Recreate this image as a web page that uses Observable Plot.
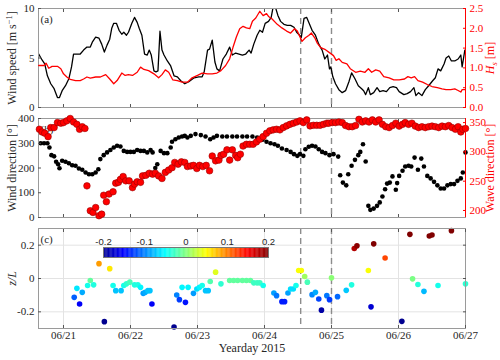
<!DOCTYPE html>
<html><head><meta charset="utf-8">
<script src="https://cdn.jsdelivr.net/npm/d3@7"></script>
<script src="https://cdn.jsdelivr.net/npm/@observablehq/plot@0.6"></script>
<style>
body{margin:0;background:#fff;}
#chart{position:relative;width:500px;height:360px;overflow:hidden;background:#fff;}
#chart svg{position:absolute;overflow:visible;max-width:none;}
</style></head><body><div id="chart"></div>
<script>
// ---------------- data (yearday 2015, value) ----------------
const xTicks = [172,173,174,175,176,177,178];
const xTickLabels = ["06/21","06/22","06/23","06/24","06/25","06/26","06/27"];
const xDomain = [171.627, 178];
const dashedDays = [175.54, 176.0];

const windSpeed = [[171.63,5.4],[171.68,4.8],[171.72,4.4],[171.76,3.2],[171.81,2.4],[171.86,1.9],[171.91,1.0],[171.94,1.0],[171.98,1.7],[172.03,2.2],[172.08,2.9],[172.12,4.1],[172.15,5.4],[172.20,5.4],[172.25,5.4],[172.30,5.8],[172.35,6.1],[172.40,6.1],[172.43,6.6],[172.48,7.1],[172.53,7.0],[172.57,6.4],[172.61,5.6],[172.65,6.3],[172.69,6.9],[172.72,8.0],[172.75,8.5],[172.79,8.5],[172.83,7.8],[172.87,7.4],[172.90,7.6],[172.94,7.3],[172.97,7.6],[173.02,8.5],[173.06,9.1],[173.10,8.6],[173.13,8.0],[173.17,7.3],[173.21,5.4],[173.25,5.3],[173.28,5.8],[173.31,5.3],[173.35,3.7],[173.38,3.6],[173.41,3.7],[173.44,7.7],[173.47,5.8],[173.50,5.3],[173.55,4.7],[173.60,4.2],[173.65,3.2],[173.70,3.1],[173.75,2.7],[173.81,2.4],[173.87,2.6],[173.95,3.0],[174.02,3.1],[174.07,3.1],[174.10,3.6],[174.15,5.8],[174.18,5.9],[174.22,6.8],[174.26,4.6],[174.29,3.9],[174.33,3.7],[174.38,4.9],[174.43,5.4],[174.48,6.1],[174.52,5.3],[174.57,5.5],[174.62,5.4],[174.67,5.3],[174.72,5.4],[174.77,5.8],[174.80,5.5],[174.84,6.4],[174.89,7.3],[174.93,7.8],[174.97,7.6],[175.01,8.5],[175.06,8.7],[175.10,9.1],[175.13,10.2],[175.16,10.2],[175.20,9.3],[175.24,8.7],[175.29,8.4],[175.34,8.3],[175.39,8.3],[175.44,8.1],[175.48,7.6],[175.51,7.4],[175.55,7.1],[175.59,9.0],[175.63,9.1],[175.66,8.6],[175.71,7.8],[175.76,7.3],[175.81,6.4],[175.86,5.8],[175.90,4.9],[175.94,5.3],[175.97,3.9],[175.99,4.1],[176.02,3.1],[176.06,2.4],[176.11,1.8],[176.16,1.5],[176.21,1.7],[176.26,2.6],[176.30,3.5],[176.35,2.9],[176.40,2.2],[176.45,1.9],[176.48,1.7],[176.51,1.3],[176.55,2.0],[176.58,1.3],[176.63,1.5],[176.68,2.0],[176.72,1.6],[176.77,1.7],[176.82,1.6],[176.87,2.0],[176.92,2.1],[176.97,2.0],[177.01,1.6],[177.08,1.3],[177.13,1.4],[177.18,1.6],[177.23,2.0],[177.26,1.2],[177.30,1.5],[177.35,1.2],[177.40,1.8],[177.45,2.2],[177.51,2.7],[177.55,3.0],[177.59,3.9],[177.63,3.7],[177.68,4.4],[177.71,5.0],[177.75,5.2],[177.79,4.7],[177.84,4.7],[177.89,4.9],[177.93,5.3],[177.95,4.1],[177.99,5.8]];

const waveHeight = [[171.63,1.06],[171.71,1.06],[171.74,1.12],[171.78,0.99],[171.83,1.04],[171.91,1.04],[171.96,0.98],[172.00,0.85],[172.05,0.77],[172.10,0.71],[172.18,0.68],[172.25,0.68],[172.30,0.72],[172.35,0.77],[172.40,0.74],[172.48,0.77],[172.55,0.77],[172.63,0.83],[172.69,0.72],[172.75,0.60],[172.80,0.68],[172.87,0.87],[172.92,0.81],[172.97,0.83],[173.03,0.81],[173.10,0.89],[173.15,1.02],[173.20,0.96],[173.27,0.93],[173.35,0.85],[173.42,0.75],[173.47,0.83],[173.52,0.95],[173.57,0.89],[173.63,0.70],[173.70,0.68],[173.77,0.64],[173.85,0.64],[173.92,0.75],[174.00,0.81],[174.07,0.87],[174.15,0.85],[174.22,0.85],[174.29,0.87],[174.35,0.93],[174.42,1.06],[174.48,1.23],[174.53,1.52],[174.58,1.78],[174.63,1.99],[174.68,2.05],[174.73,2.01],[174.78,1.99],[174.82,2.18],[174.87,2.26],[174.93,2.43],[174.98,2.32],[175.03,2.37],[175.06,2.30],[175.11,2.24],[175.19,2.10],[175.26,2.01],[175.33,1.93],[175.39,1.88],[175.45,1.99],[175.49,1.93],[175.53,1.78],[175.56,1.67],[175.61,1.76],[175.66,1.82],[175.70,1.88],[175.75,1.76],[175.79,1.62],[175.84,1.51],[175.91,1.46],[175.99,1.36],[176.03,1.31],[176.07,1.19],[176.11,1.23],[176.16,1.14],[176.23,1.10],[176.28,0.98],[176.36,0.89],[176.43,0.92],[176.50,0.89],[176.55,0.98],[176.60,0.89],[176.66,0.95],[176.72,0.92],[176.78,0.78],[176.86,0.75],[176.93,0.70],[177.01,0.70],[177.09,0.72],[177.14,0.78],[177.19,0.75],[177.24,0.78],[177.29,0.68],[177.36,0.64],[177.43,0.58],[177.50,0.53],[177.58,0.50],[177.65,0.47],[177.71,0.45],[177.78,0.45],[177.84,0.47],[177.89,0.43],[177.93,0.39],[177.95,0.45],[177.99,0.45]];

const windDir = [[171.66,300],[171.71,300],[171.76,300],[171.79,283],[171.82,252],[171.86,247],[171.89,225],[171.92,215],[171.94,199],[171.98,229],[172.03,225],[172.08,219],[172.13,211],[172.18,209],[172.23,198],[172.28,193],[172.33,182],[172.38,175],[172.43,175],[172.48,182],[172.52,195],[172.55,236],[172.60,252],[172.65,263],[172.70,273],[172.75,283],[172.80,290],[172.85,287],[172.90,269],[172.95,265],[173.00,265],[173.05,265],[173.10,273],[173.15,269],[173.20,269],[173.25,263],[173.30,273],[173.33,263],[173.37,200],[173.40,215],[173.45,269],[173.50,260],[173.55,260],[173.60,283],[173.62,306],[173.67,316],[173.72,323],[173.77,327],[173.81,330],[173.85,323],[173.90,330],[173.97,337],[174.05,333],[174.12,327],[174.19,316],[174.24,323],[174.29,330],[174.37,327],[174.44,327],[174.52,327],[174.59,327],[174.67,327],[174.74,327],[174.82,327],[174.89,323],[174.97,314],[175.03,306],[175.09,300],[175.15,296],[175.20,290],[175.26,279],[175.33,273],[175.39,265],[175.44,256],[175.49,249],[175.53,256],[175.58,249],[175.61,276],[175.66,286],[175.71,290],[175.76,287],[175.81,276],[175.86,265],[175.91,260],[175.97,252],[176.03,256],[176.10,246],[176.13,171],[176.17,141],[176.22,130],[176.25,175],[176.30,209],[176.35,233],[176.40,252],[176.43,265],[176.47,296],[176.51,226],[176.55,47],[176.58,31],[176.63,36],[176.68,47],[176.72,61],[176.76,85],[176.80,114],[176.83,137],[176.87,141],[176.91,166],[176.96,112],[176.98,139],[177.01,168],[177.06,189],[177.10,206],[177.15,209],[177.19,206],[177.24,242],[177.29,193],[177.34,238],[177.38,206],[177.43,168],[177.48,158],[177.53,144],[177.58,130],[177.63,117],[177.68,117],[177.73,130],[177.78,135],[177.83,135],[177.88,148],[177.93,158],[177.96,182],[178.00,263]];

const waveDir = [[171.64,338.6],[171.68,334],[171.72,332],[171.77,326],[171.81,341.5],[171.86,341.5],[171.91,350],[171.96,349],[172.00,350],[172.05,353],[172.10,357],[172.15,351],[172.20,347],[172.24,338.6],[172.28,343],[172.32,340],[172.35,242],[172.40,199.5],[172.44,196.6],[172.48,205],[172.53,191],[172.57,193.7],[172.60,226],[172.64,215],[172.68,228],[172.74,232],[172.78,246.6],[172.82,248],[172.85,253],[172.89,258],[172.93,250.6],[172.98,250.6],[173.03,239],[173.06,245],[173.10,249],[173.15,248],[173.18,259],[173.23,260],[173.28,263.6],[173.33,262],[173.37,263.6],[173.42,259],[173.47,254.6],[173.52,265],[173.57,269],[173.62,273],[173.66,282],[173.71,279],[173.76,283],[173.81,282],[173.85,275],[173.90,276],[173.94,277],[173.99,271.6],[174.03,277],[174.08,275],[174.13,277],[174.18,267.7],[174.22,293],[174.27,284.7],[174.32,286],[174.35,294],[174.39,296],[174.44,303.5],[174.48,286],[174.52,303.5],[174.57,294],[174.60,290],[174.64,296],[174.68,310],[174.73,313],[174.78,313],[174.83,313],[174.88,317],[174.93,321.6],[174.98,326],[175.03,331.8],[175.08,336],[175.13,337.6],[175.18,338.6],[175.23,337.6],[175.28,341.5],[175.33,344.4],[175.38,347],[175.43,349],[175.48,351],[175.53,353],[175.58,350],[175.63,354.6],[175.68,344.4],[175.73,345.4],[175.78,345.4],[175.83,345.4],[175.88,347],[175.93,349],[175.96,349],[176.01,350],[176.06,350],[176.11,351],[176.16,350],[176.21,345],[176.26,343],[176.31,343],[176.36,345],[176.41,355.6],[176.46,351],[176.51,353],[176.56,351],[176.61,354.6],[176.66,351],[176.71,354.6],[176.76,347],[176.81,343],[176.86,341.5],[176.91,345],[176.96,349],[177.01,344],[177.06,347],[177.10,350],[177.15,347],[177.20,349],[177.25,344],[177.30,341.5],[177.35,343],[177.40,341.5],[177.45,343],[177.50,344],[177.55,343],[177.60,341.5],[177.65,344],[177.70,343],[177.75,345],[177.80,341.5],[177.85,338.6],[177.89,343],[177.93,334],[177.96,338.6],[178.00,340]];

const stability = [[172.16,-0.113],[172.20,-0.059],[172.24,-0.153],[172.28,-0.083],[172.36,-0.042],[172.40,-0.012],[172.45,-0.038],[172.53,0.089],[172.61,-0.259],[172.69,0.059],[172.74,-0.042],[172.78,-0.073],[172.86,-0.073],[172.90,-0.042],[172.94,-0.032],[172.99,-0.022],[173.06,-0.038],[173.11,-0.038],[173.15,-0.053],[173.19,-0.089],[173.22,-0.083],[173.26,-0.073],[173.29,-0.073],[173.32,-0.153],[173.65,-0.291],[173.69,-0.099],[173.73,-0.127],[173.77,-0.053],[173.82,-0.143],[173.86,-0.053],[173.94,-0.089],[173.99,-0.063],[174.03,-0.053],[174.07,-0.042],[174.12,-0.073],[174.16,-0.073],[174.19,-0.018],[174.27,0.038],[174.35,-0.032],[174.48,-0.012],[174.54,-0.012],[174.60,-0.012],[174.67,-0.012],[174.73,-0.012],[174.79,-0.012],[174.84,-0.026],[174.89,-0.026],[174.93,-0.026],[174.98,-0.042],[175.14,-0.087],[175.18,-0.103],[175.26,-0.139],[175.30,-0.139],[175.35,-0.087],[175.39,-0.063],[175.43,-0.063],[175.47,-0.042],[175.51,0.048],[175.55,0.048],[175.60,0.012],[175.64,-0.022],[175.71,-0.097],[175.76,-0.083],[175.81,-0.123],[175.85,-0.190],[175.93,-0.103],[175.97,-0.127],[176.00,0.004],[176.09,-0.109],[176.22,-0.071],[176.30,-0.038],[176.34,0.18],[176.38,0.196],[176.55,0.048],[176.59,-0.170],[176.63,0.208],[176.80,0.123],[177.05,-0.257],[177.17,0.265],[177.21,-0.002],[177.29,-0.036],[177.38,-0.077],[177.46,0.255],[177.50,0.261],[177.59,-0.042],[177.79,0.287],[178.00,-0.032]];

const windSpeedTicks = [0,5,10];
const waveHeightTicks = [0,0.5,1,1.5,2,2.5];
const windDirTicks = [0,100,200,300,400];
const waveDirTicks = [200,250,300,350];
const stabilityTicks = [-0.2,0,0.2];
const stabilityTickLabels = ["-0.2","0","0.2"];
const colorbarTicks = [-0.2,-0.1,0,0.1,0.2];
const colorbarTickLabels = ["-0.2","-0.1","0","0.1","0.2"];
// jet colormap anchor colours
const jetDomain = [-0.2,-0.15,-0.05,0.05,0.15,0.2];
const jetColors = ["#00008f","#0000ff","#00ffff","#ffff00","#ff0000","#800000"];

// ---------------- drawing ----------------
const chart = document.getElementById("chart");
const SERIF = "'Liberation Serif', 'Times New Roman', serif";
const SANS = "'Liberation Sans', Arial, sans-serif";
const INK = "#262626";
const TICK = "#555";
const FRAME = "#9a9a9a";
const colorOpts = {type:"linear", domain: jetDomain, range: jetColors, interpolate:"rgb", clamp:true};

function place(svg, top, left=0) {
  svg.style.top = top + "px";
  svg.style.left = left + "px";
  chart.appendChild(svg);
  return svg;
}
function base(height, mb) {
  return {width:500, height, marginLeft:38, marginRight:35, marginTop:8, marginBottom:mb,
    style:{fontFamily:SERIF, fontSize:"11px", background:"transparent", color:INK}};
}
const fmtX = d => xTickLabels[xTicks.indexOf(d)];
const blank = () => "";
const dashed = () => Plot.ruleX(dashedDays, {stroke:"#8c8c8c", strokeWidth:1.4, strokeDasharray:"6,4"});
const xInTicks = () => [
  Plot.axisX({anchor:"bottom", ticks:xTicks, tickSize:-3, tickFormat:blank, stroke:TICK, label:null}),
  Plot.axisX({anchor:"top", ticks:xTicks, tickSize:-3, tickFormat:blank, stroke:TICK, label:null})
];
function leftAxis(ticks, fmt) {
  return [
    Plot.axisY({anchor:"left", ticks, tickSize:-3, tickFormat:blank, stroke:TICK, label:null}),
    Plot.axisY({anchor:"left", ticks, tickSize:0, tickPadding:4, tickFormat:fmt, fill:INK, fontSize:11, label:null})
  ];
}
function rightAxis(ticks, color) {
  return [
    Plot.ruleX([xDomain[1]], {stroke:color, strokeWidth:1}),
    Plot.axisY({anchor:"right", ticks, tickSize:-3, tickFormat:blank, stroke:color, label:null}),
    Plot.axisY({anchor:"right", ticks, tickSize:0, tickPadding:4, fill:color, fontSize:11, label:null})
  ];
}
const panelLabel = t => Plot.text([t], {frameAnchor:"top-left", dx:2, dy:7, textAnchor:"start", fontSize:11, fill:INK});
const yTitle = (t, side, color, extra={}) => Plot.text([t], {frameAnchor:side, textAnchor:"middle", rotate:-90,
  dx: side==="left" ? -26 : 25, fontSize:12, fill:color, ...extra});

// Panel (a)
place(Plot.plot({...base(112,5), x:{domain:xDomain}, y:{domain:[0,10]}, marks:[
  dashed(),
  Plot.line(windSpeed, {x:d=>d[0], y:d=>d[1], stroke:"#000", strokeWidth:1.3, clip:true}),
  Plot.frame({stroke:FRAME}),
  ...xInTicks(),
  ...leftAxis(windSpeedTicks),
  panelLabel("(a)"),
  yTitle("Wind speed [m s-1]", "left", INK)
]}), 0);
place(Plot.plot({...base(112,5), x:{domain:xDomain, axis:null}, y:{domain:[0,2.5]}, marks:[
  Plot.line(waveHeight, {x:d=>d[0], y:d=>d[1], stroke:"#ff0000", strokeWidth:1.3, clip:true}),
  ...rightAxis(waveHeightTicks, "#ff0000"),
  yTitle("Hs [m]", "right", "#ff0000")
]}), 0);

// Panel (b)
place(Plot.plot({...base(112,5), x:{domain:xDomain}, y:{domain:[0,400]}, marks:[
  dashed(),
  panelLabel("(b)"),
  Plot.dot(windDir, {x:d=>d[0], y:d=>d[1], r:2.3, fill:"#000", stroke:null}),
  Plot.frame({stroke:FRAME}),
  ...xInTicks(),
  ...leftAxis(windDirTicks),
  yTitle("Wind direction [°]", "left", INK)
]}), 110);
place(Plot.plot({...base(112,5), x:{domain:xDomain, axis:null}, y:{domain:[188,357]}, marks:[
  Plot.dot(waveDir, {x:d=>d[0], y:d=>d[1], r:3.3, fill:"#ff0000", stroke:"#9b0000", strokeWidth:0.6}),
  ...rightAxis(waveDirTicks, "#ff0000"),
  yTitle("Wave direction [°]", "right", "#ff0000")
]}), 110);

// Panel (c)
place(Plot.plot({...base(140,32), x:{domain:xDomain}, y:{domain:[-0.3,0.3]}, color: colorOpts, marks:[
  Plot.gridX({ticks:xTicks, stroke:"#e3e3e3", strokeOpacity:1}),
  Plot.gridY({ticks:stabilityTicks, stroke:"#e3e3e3", strokeOpacity:1}),
  dashed(),
  Plot.dot(stability, {x:d=>d[0], y:d=>d[1], fill:d=>d[1], r:2.8, stroke:null}),
  Plot.frame({stroke:FRAME}),
  ...xInTicks(),
  Plot.axisX({anchor:"bottom", ticks:xTicks, tickSize:0, tickPadding:3, tickFormat:fmtX, fill:INK, fontSize:11, label:null}),
  ...leftAxis(stabilityTicks, d => stabilityTickLabels[stabilityTicks.indexOf(d)]),
  Plot.axisY({anchor:"right", ticks:stabilityTicks, tickSize:-3, tickFormat:blank, stroke:TICK, label:null}),
  panelLabel("(c)"),
  yTitle("z/L", "left", INK, {fontStyle:"italic"}),
  Plot.text(["Yearday 2015"], {frameAnchor:"bottom", dy:23, fontSize:12, fill:INK})
]}), 220);

// Colour bar
const cbStep = 0.002;
const cbStops = d3.range(-0.2, 0.2 - 1e-9, cbStep);
place(Plot.plot({width:185, height:32, marginLeft:10, marginRight:10, marginTop:20, marginBottom:2,
  style:{fontFamily:SANS, fontSize:"9.5px", background:"transparent", color:INK},
  x:{domain:[-0.2,0.2]}, color: colorOpts, marks:[
  Plot.rect(cbStops, {x1:d=>d, x2:d=>d+cbStep*1.3, fill:d=>d+cbStep/2}),
  Plot.frame({stroke:"#777"}),
  Plot.axisX({anchor:"top", ticks:colorbarTicks, tickSize:0, tickPadding:3, fontSize:9.5, fill:INK, label:null,
    tickFormat:d => colorbarTickLabels[colorbarTicks.findIndex(v => Math.abs(v-d) < 1e-9)]})
]}), 227, 93);

// rich text (italic, sub/superscripts)
d3.select(chart).selectAll("text").each(function() {
  const t = this.textContent, s = d3.select(this);
  if (t === "Hs [m]") {
    s.text(null).attr("text-anchor","middle");
    s.append("tspan").attr("font-style","italic").text("H");
    s.append("tspan").attr("font-style","italic").attr("font-size","8.5").attr("dy","2.5").text("s");
    s.append("tspan").attr("dy","-2.5").text(" [m]");
  } else if (t === "Wind speed [m s-1]") {
    s.text(null).attr("text-anchor","middle");
    s.append("tspan").text("Wind speed [m s");
    s.append("tspan").attr("font-size","8.5").attr("dy","-4").text("−1");
    s.append("tspan").attr("dy","4").text("]");
  }
});
</script></body></html>
